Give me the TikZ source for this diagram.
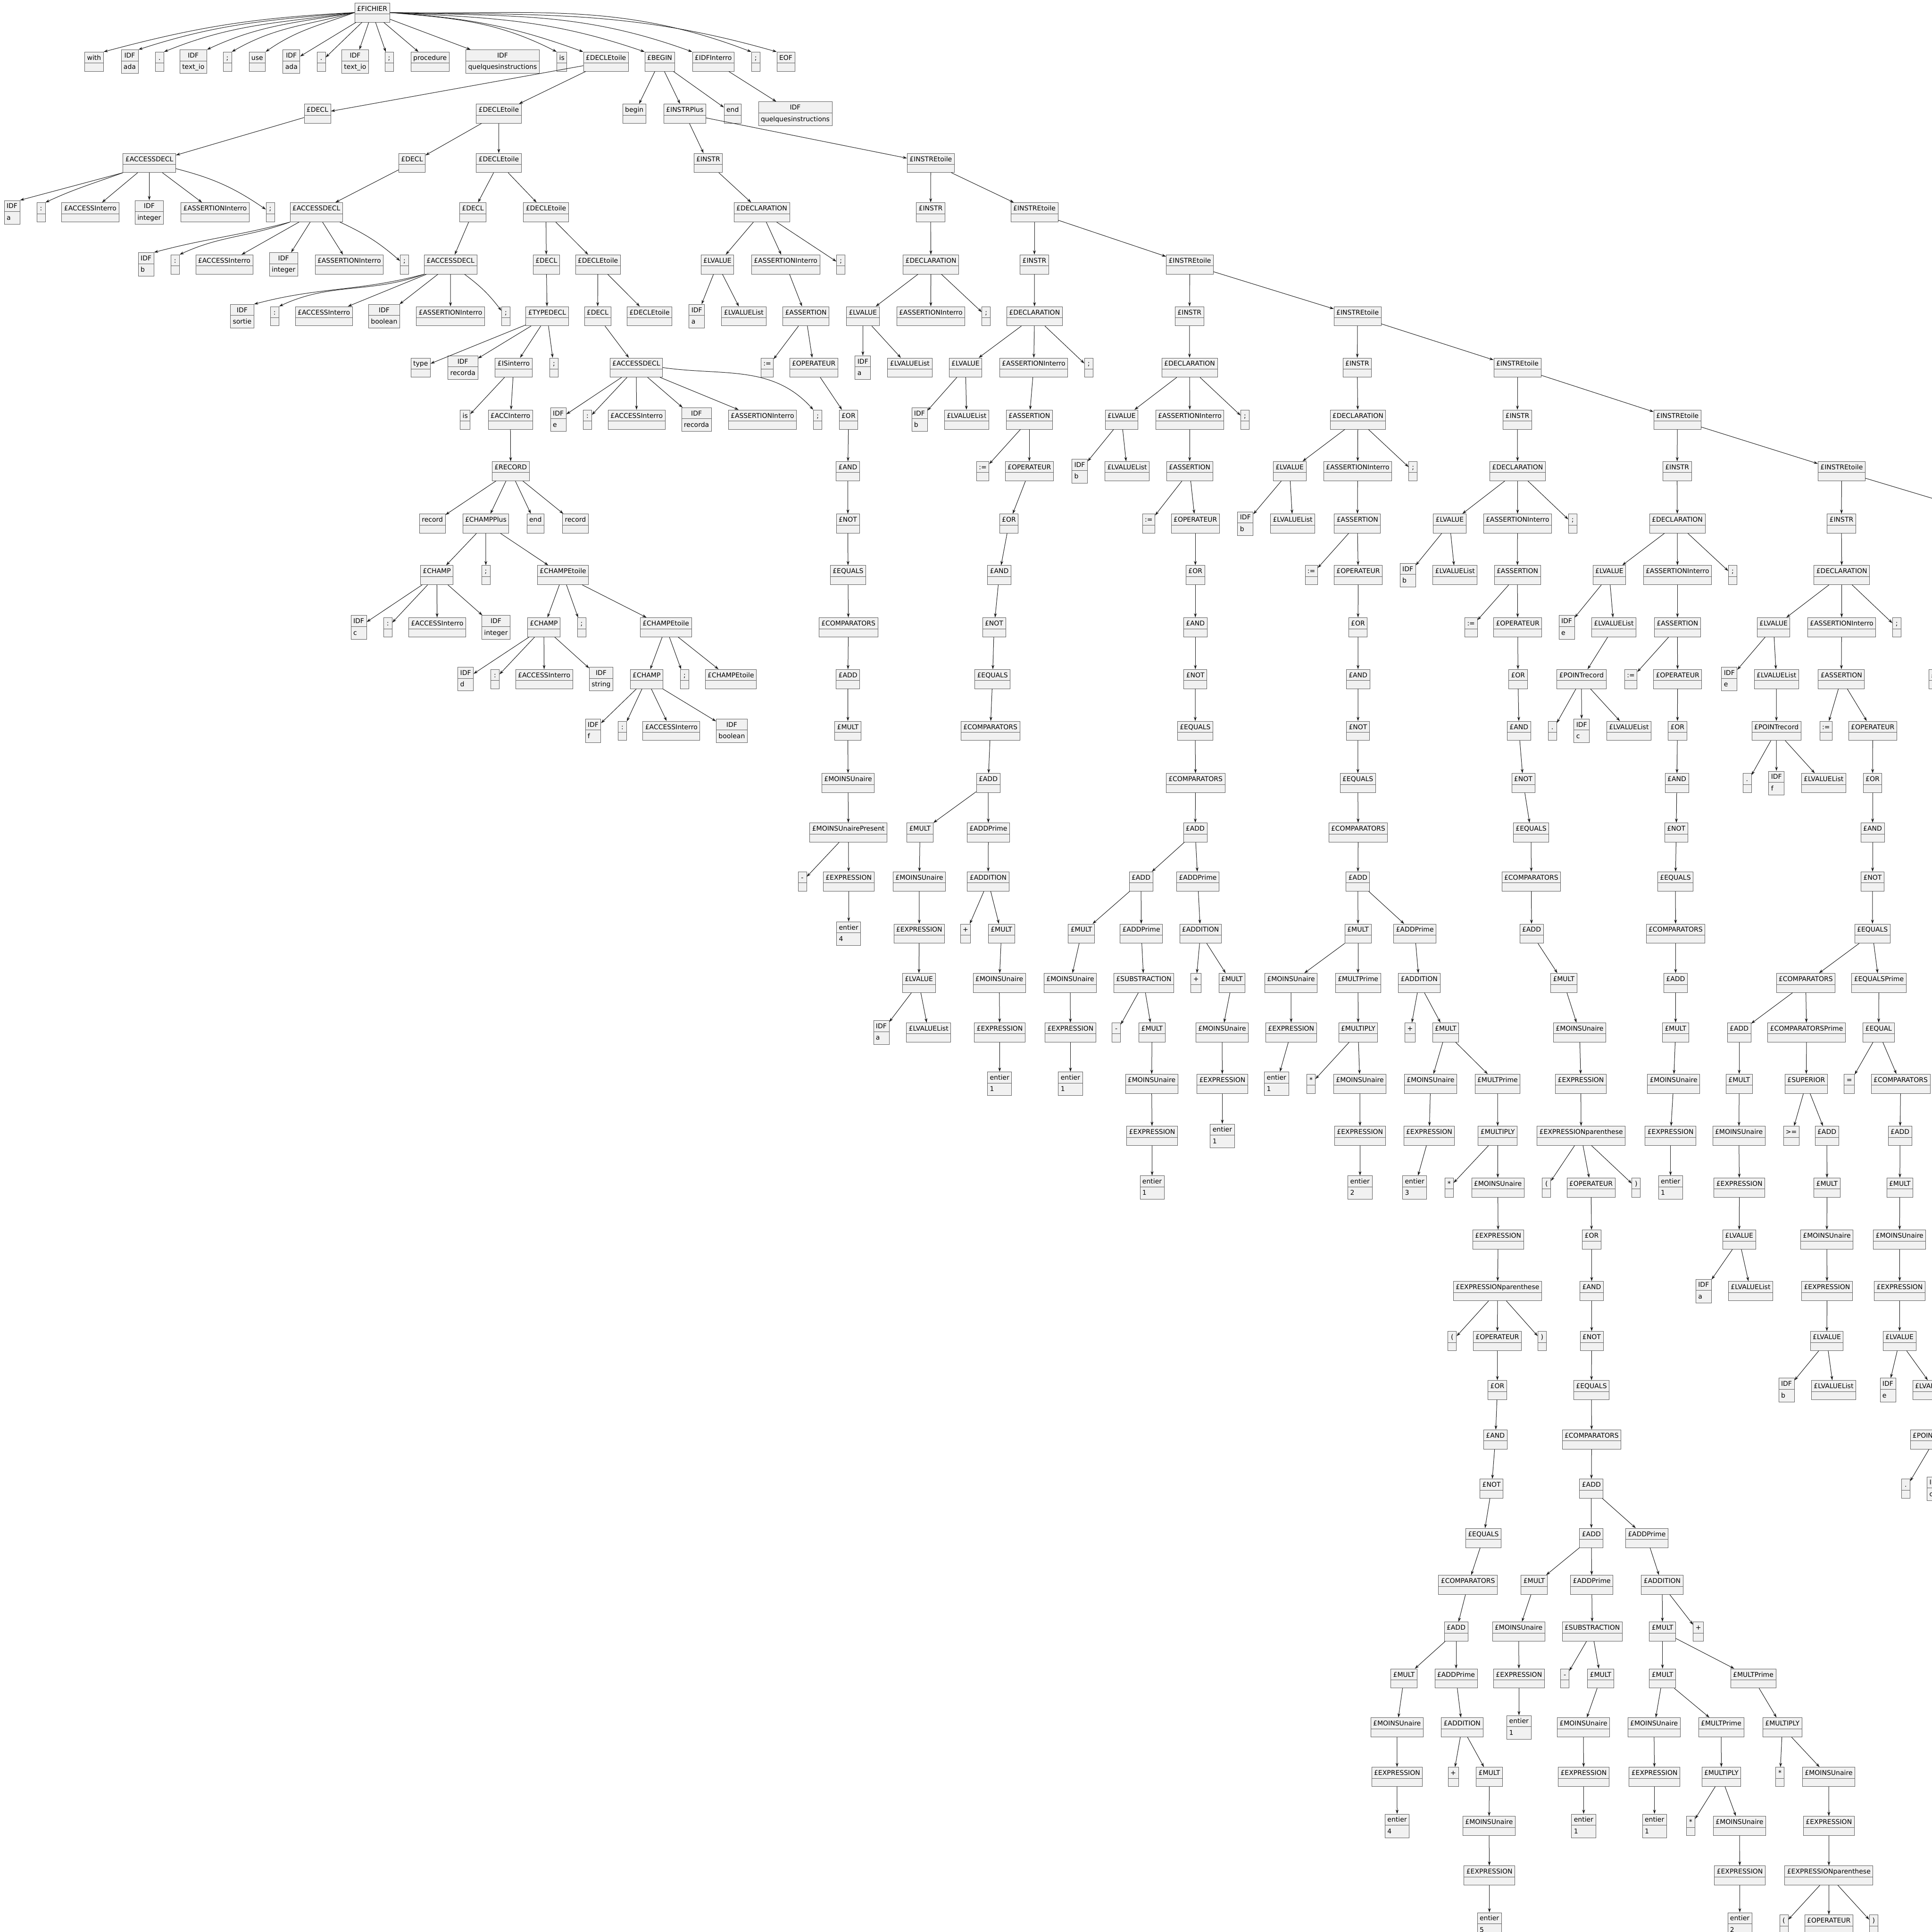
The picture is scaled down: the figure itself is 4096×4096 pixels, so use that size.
\documentclass[tikz,border=0pt]{standalone}
\usepackage{fontspec}
\newfontfamily\objfont{DejaVu Sans}
\usetikzlibrary{shapes.multipart,arrows.meta}
\definecolor{boxfill}{HTML}{F1F1F1}
\definecolor{boxline}{HTML}{5C5C5C}
\definecolor{edgecol}{HTML}{181818}
\newcommand\hs{\rule[-6pt]{0pt}{22.6pt}}
\newcommand\es{\rule{0pt}{16.6pt}}
\newcommand\vs{\rule[-8.6pt]{0pt}{26pt}}
\newcommand\ob[4]{\node[obj] (#1) at (#2,-#3) {\hs #4\nodepart{two}\es};}
\newcommand\ov[5]{\node[obj] (#1) at (#2,-#3) {\hs #4\nodepart{two}\vs #5};}
\tikzset{
 obj/.style={rectangle split, rectangle split parts=2, rectangle split part align={center,left},
   draw=boxline, fill=boxfill, line width=0.8pt, inner xsep=5pt, inner ysep=0pt,
   minimum width=18pt, font=\objfont\fontsize{14pt}{16pt}\selectfont},
 edg/.style={draw=edgecol, line width=1pt, -{Stealth[length=9pt,width=6pt]}}
}
\begin{document}
\begin{tikzpicture}[x=1pt,y=1pt]
\useasboundingbox (0,0) rectangle (4096,-4096);
\clip (0,0) rectangle (4096,-4096);
% R0
\ob{F}{789}{26.6}{£FICHIER}
% R1
\ob{t1}{199.5}{130.7}{with}
\ov{t2}{275}{130.7}{IDF}{ada}
\ob{t3}{338.3}{130.7}{.}
\ov{t4}{409.8}{130.7}{IDF}{text\_io}
\ob{t5}{482}{130.7}{;}
\ob{t6}{545.3}{130.7}{use}
\ov{t7}{617.8}{130.7}{IDF}{ada}
\ob{t8}{681}{130.7}{.}
\ov{t9}{753}{130.7}{IDF}{text\_io}
\ob{t10}{825}{130.7}{;}
\ob{t11}{911.7}{130.7}{procedure}
\ov{t12}{1065.5}{130.7}{IDF}{quelquesinstructions}
\ob{t13}{1191.2}{130.7}{is}
\ob{de1}{1284.6}{130.7}{£DECLEtoile}
\ob{bg}{1398.5}{130.7}{£BEGIN}
\ob{ii}{1512.2}{130.7}{£IDFInterro}
\ob{t14}{1602.3}{130.7}{;}
\ob{t15}{1666}{130.7}{EOF}
% R2
\ob{d1}{673}{240.9}{£DECL}
\ob{de2}{1057.4}{240.9}{£DECLEtoile}
\ob{bgn}{1344.7}{240.9}{begin}
\ob{ip}{1451.8}{240.9}{£INSTRPlus}
\ob{en}{1553.3}{240.9}{end}
\ov{iq}{1686}{240.9}{IDF}{quelquesinstructions}
% R3
\ob{ad1}{316.7}{345.4}{£ACCESSDECL}
\ob{d2}{873.5}{345.4}{£DECL}
\ob{de3}{1057.4}{345.4}{£DECLEtoile}
\ob{in1}{1501.4}{345.4}{£INSTR}
\ob{ie1}{1973.3}{345.4}{£INSTREtoile}
% R4
\ov{a1a}{25.5}{450}{IDF}{a}
\ob{a1b}{86.9}{450}{:}
\ob{a1c}{191.4}{450}{£ACCESSInterro}
\ov{a1d}{316.4}{450}{IDF}{integer}
\ob{a1e}{455.9}{450}{£ASSERTIONInterro}
\ob{a1f}{573.1}{450}{;}
\ob{ad2}{670.7}{450}{£ACCESSDECL}
\ob{d3}{1002.5}{450}{£DECL}
\ob{de4}{1157.5}{450}{£DECLEtoile}
\ob{dc1}{1615}{450}{£DECLARATION}
\ob{in2}{1973}{450}{£INSTR}
\ob{ie2}{2193}{450}{£INSTREtoile}
% R5
\ov{a2a}{309.6}{560.6}{IDF}{b}
\ob{a2b}{371.3}{560.6}{:}
\ob{a2c}{475.5}{560.6}{£ACCESSInterro}
\ov{a2d}{601.2}{560.6}{IDF}{integer}
\ob{a2e}{740.3}{560.6}{£ASSERTIONInterro}
\ob{a2f}{857.5}{560.6}{;}
\ob{ad3}{955.2}{560.6}{£ACCESSDECL}
\ob{d4}{1158.3}{560.6}{£DECL}
\ob{de5}{1267.6}{560.6}{£DECLEtoile}
\ob{lv1}{1521}{560.6}{£LVALUE}
\ob{ai1}{1665.7}{560.6}{£ASSERTIONInterro}
\ob{sc1}{1782.6}{560.6}{;}
\ob{dc2}{1973.6}{560.6}{£DECLARATION}
\ob{in3}{2193}{560.6}{£INSTR}
\ob{ie3}{2522.5}{560.6}{£INSTREtoile}
% R6
\ov{a3a}{513.4}{670.4}{IDF}{sortie}
\ob{a3b}{582.2}{670.4}{:}
\ob{a3c}{686.7}{670.4}{£ACCESSInterro}
\ov{a3d}{814.4}{670.4}{IDF}{boolean}
\ob{a3e}{955}{670.4}{£ASSERTIONInterro}
\ob{a3f}{1072.4}{670.4}{;}
\ob{td}{1160}{670.4}{£TYPEDECL}
\ob{d5}{1267}{670.4}{£DECL}
\ob{de6}{1377}{670.4}{£DECLEtoile}
\ov{lv1a}{1477.3}{670.4}{IDF}{a}
\ob{lv1b}{1576.9}{670.4}{£LVALUEList}
\ob{as1}{1708.5}{670.4}{£ASSERTION}
\ob{lv2}{1829.3}{670.4}{£LVALUE}
\ob{ai2}{1973.3}{670.4}{£ASSERTIONInterro}
\ob{sc2}{2090.8}{670.4}{;}
\ob{dc3}{2193.3}{670.4}{£DECLARATION}
\ob{in4}{2521.8}{670.4}{£INSTR}
\ob{ie4}{2878.1}{670.4}{£INSTREtoile}
% R7
\ob{ty}{891.8}{779.3}{type}
\ov{tr}{981.3}{779.3}{IDF}{recorda}
\ob{isi}{1089}{779.3}{£ISinterro}
\ob{tsc}{1174.5}{779.3}{;}
\ob{ad4}{1348.9}{779.3}{£ACCESSDECL}
\ob{op1as}{1626.5}{779.3}{:=}
\ob{op1}{1725.1}{779.3}{£OPERATEUR}
\ov{lv2a}{1829.3}{779.3}{IDF}{a}
\ob{lv2b}{1928.9}{779.3}{£LVALUEList}
\ob{lv3}{2047}{779.3}{£LVALUE}
\ob{ai3}{2191.4}{779.3}{£ASSERTIONInterro}
\ob{sc3}{2308.3}{779.3}{;}
\ob{dc4}{2522}{779.3}{£DECLARATION}
\ob{in5}{2877.4}{779.3}{£INSTR}
\ob{ie5}{3217}{779.3}{£INSTREtoile}
% R8
\ob{is1}{986.2}{889.5}{is}
\ob{aci}{1082.1}{889.5}{£ACCInterro}
\ov{a4a}{1183.7}{889.5}{IDF}{e}
\ob{a4b}{1245.4}{889.5}{:}
\ob{a4c}{1349.6}{889.5}{£ACCESSInterro}
\ov{a4d}{1476.6}{889.5}{IDF}{recorda}
\ob{a4e}{1616.4}{889.5}{£ASSERTIONInterro}
\ob{a4f}{1733.6}{889.5}{;}
\ob{o1}{1798.9}{889.5}{£OR}
\ov{lv3a}{1949.4}{889.5}{IDF}{b}
\ob{lv3b}{2049.3}{889.5}{£LVALUEList}
\ob{as3}{2182.2}{889.5}{£ASSERTION}
\ob{lv4}{2377.9}{889.5}{£LVALUE}
\ob{ai4}{2522.5}{889.5}{£ASSERTIONInterro}
\ob{sc4}{2639.4}{889.5}{;}
\ob{dc5}{2878.8}{889.5}{£DECLARATION}
\ob{in6}{3217}{889.5}{£INSTR}
\ob{ie6}{3556.3}{889.5}{£INSTREtoile}
% R9
\ob{rec}{1082.7}{998.8}{£RECORD}
\ob{an1}{1797.5}{998.8}{£AND}
\ob{as3a}{2083.6}{998.8}{:=}
\ob{op3}{2182.2}{998.8}{£OPERATEUR}
\ov{lv4a}{2289}{998.8}{IDF}{b}
\ob{lv4b}{2389.6}{998.8}{£LVALUEList}
\ob{as4}{2522.1}{998.8}{£ASSERTION}
\ob{lv5}{2734.1}{998.8}{£LVALUE}
\ob{ai5}{2878.4}{998.8}{£ASSERTIONInterro}
\ob{sc5}{2995.7}{998.8}{;}
\ob{dc6}{3217.3}{998.8}{£DECLARATION}
\ob{in7}{3555.6}{998.8}{£INSTR}
\ob{ie7}{3904.4}{998.8}{£INSTREtoile}
% R10
\ob{rc1}{916.7}{1110}{record}
\ob{cp}{1029.9}{1110}{£CHAMPPlus}
\ob{rc3}{1135.3}{1110}{end}
\ob{rc4}{1220}{1110}{record}
\ob{nt1}{1797.5}{1110}{£NOT}
\ob{o3}{2139}{1110}{£OR}
\ob{as4a}{2435.3}{1110}{:=}
\ob{op4}{2534.2}{1110}{£OPERATEUR}
\ov{lv5a}{2640.3}{1110}{IDF}{b}
\ob{lv5b}{2740.6}{1110}{£LVALUEList}
\ob{as5}{2877.8}{1110}{£ASSERTION}
\ob{lv6}{3073.4}{1110}{£LVALUE}
\ob{ai6}{3217.3}{1110}{£ASSERTIONInterro}
\ob{sc6}{3334.2}{1110}{;}
\ob{dc7}{3556}{1110}{£DECLARATION}
\ob{in8}{3904}{1110}{£INSTR}
\coordinate (ie8) at (4218,-1093);
% R11
\ob{ch1}{926.1}{1219.2}{£CHAMP}
\ob{csc1}{1030}{1219.2}{;}
\ob{ce1}{1193.5}{1219.2}{£CHAMPEtoile}
\ob{eq1}{1797.9}{1219.2}{£EQUALS}
\ob{an3}{2118.5}{1219.2}{£AND}
\ob{o4}{2534.2}{1219.2}{£OR}
\ob{as5a}{2780.1}{1219.2}{:=}
\ob{op5}{2879.5}{1219.2}{£OPERATEUR}
\ov{lv6a}{2984.6}{1219.2}{IDF}{b}
\ob{lv6b}{3084.7}{1219.2}{£LVALUEList}
\ob{as6}{3217}{1219.2}{£ASSERTION}
\ob{lv7}{3411.9}{1219.2}{£LVALUE}
\ob{ai7}{3556.3}{1219.2}{£ASSERTIONInterro}
\ob{sc7}{3673.5}{1219.2}{;}
\ob{dc8}{3904.7}{1219.2}{£DECLARATION}
% R12
\ov{c1a}{760.5}{1329.9}{IDF}{c}
\ob{c1b}{822.3}{1329.9}{:}
\ob{c1c}{926.8}{1329.9}{£ACCESSInterro}
\ov{c1d}{1051.5}{1329.9}{IDF}{integer}
\ob{ch2}{1153}{1329.9}{£CHAMP}
\ob{csc2}{1233}{1329.9}{;}
\ob{ce2}{1411.6}{1329.9}{£CHAMPEtoile}
\ob{cm1}{1798.6}{1329.9}{£COMPARATORS}
\ob{nt3}{2107.5}{1329.9}{£NOT}
\ob{an4}{2534.2}{1329.9}{£AND}
\ob{o5}{2879}{1329.9}{£OR}
\ob{as6a}{3118.7}{1329.9}{:=}
\ob{op6}{3217.6}{1329.9}{£OPERATEUR}
\ov{lv7a}{3321.5}{1329.9}{IDF}{e}
\ob{lv7b}{3421.4}{1329.9}{£LVALUEList}
\ob{as7}{3556.3}{1329.9}{£ASSERTION}
\ob{lv8}{3760}{1329.9}{£LVALUE}
\ob{ai8}{3904.4}{1329.9}{£ASSERTIONInterro}
\ob{sc8}{4021.3}{1329.9}{;}
\coordinate (dc9) at (4225,-1350);
% R13
\ov{c2a}{987.1}{1439.6}{IDF}{d}
\ob{c2b}{1049.5}{1439.6}{:}
\ob{c2c}{1153.7}{1439.6}{£ACCESSInterro}
\ov{c2d}{1274.5}{1439.6}{IDF}{string}
\ob{ch3}{1370.8}{1439.6}{£CHAMP}
\ob{csc3}{1451.5}{1439.6}{;}
\ob{ce3}{1549.4}{1439.6}{£CHAMPEtoile}
\ob{ad1x}{1797.6}{1439.6}{£ADD}
\ob{eq3}{2104.2}{1439.6}{£EQUALS}
\ob{nt4}{2534.2}{1439.6}{£NOT}
\ob{an5}{2879.1}{1439.6}{£AND}
\ob{o6}{3218.3}{1439.6}{£OR}
\ob{pr7}{3352.8}{1439.6}{£POINTrecord}
\ob{as7a}{3457.6}{1439.6}{:=}
\ob{op7}{3556.6}{1439.6}{£OPERATEUR}
\ov{lv8a}{3666.3}{1439.6}{IDF}{e}
\ob{lv8b}{3766.2}{1439.6}{£LVALUEList}
\ob{as8}{3903.7}{1439.6}{£ASSERTION}
\ob{lv9}{4124}{1439.6}{£LVALUE}
% R14
\ov{c3a}{1257.4}{1549.4}{IDF}{f}
\ob{c3b}{1319.5}{1549.4}{:}
\ob{c3c}{1423.3}{1549.4}{£ACCESSInterro}
\ov{c3d}{1551.4}{1549.4}{IDF}{boolean}
\ob{mu1}{1797.5}{1549.4}{£MULT}
\ob{cm3}{2099.6}{1549.4}{£COMPARATORS}
\ob{eq4}{2533.9}{1549.4}{£EQUALS}
\ob{nt5}{2879}{1549.4}{£NOT}
\ob{an6}{3220.3}{1549.4}{£AND}
\ob{pr7a}{3291.1}{1549.4}{.}
\ov{pr7b}{3353.2}{1549.4}{IDF}{c}
\ob{pr7c}{3453.4}{1549.4}{£LVALUEList}
\ob{o7}{3556.3}{1549.4}{£OR}
\ob{pr8}{3766}{1549.4}{£POINTrecord}
\ob{as8a}{3871.4}{1549.4}{:=}
\ob{op8}{3970.3}{1549.4}{£OPERATEUR}
% R15
\ob{mo1}{1798}{1660}{£MOINSUnaire}
\ob{ad3x}{2095}{1660}{£ADD}
\ob{cm4}{2534.6}{1660}{£COMPARATORS}
\ob{eq5}{2878.7}{1660}{£EQUALS}
\ob{nt6}{3229.4}{1660}{£NOT}
\ob{an7}{3555}{1660}{£AND}
\ob{pr8a}{3703.9}{1660}{.}
\ov{pr8b}{3766.2}{1660}{IDF}{f}
\ob{pr8c}{3866.2}{1660}{£LVALUEList}
\ob{o8}{3970}{1660}{£OR}
% R16
\ob{mp1}{1798.6}{1765}{£MOINSUnairePresent}
\ob{mu3}{1950.4}{1765}{£MULT}
\ob{ap3}{2095.3}{1765}{£ADDPrime}
\ob{ad4x}{2533.9}{1765}{£ADD}
\ob{cm5}{2879.4}{1765}{£COMPARATORS}
\ob{eq6}{3246}{1765}{£EQUALS}
\ob{nt7}{3553.7}{1765}{£NOT}
\ob{an8}{3970}{1765}{£AND}
% R17
\ob{mn1}{1700.9}{1868.7}{-}
\ob{ex1}{1799.2}{1868.7}{£EXPRESSION}
\ob{mo3}{1949}{1868.7}{£MOINSUnaire}
\ob{adn3}{2095}{1868.7}{£ADDITION}
\ob{ad4a}{2419}{1868.7}{£ADD}
\ob{ap4}{2539.4}{1868.7}{£ADDPrime}
\ob{ad5}{2878.8}{1868.7}{£ADD}
\ob{cm6}{3246.4}{1868.7}{£COMPARATORS}
\ob{eq7}{3552}{1868.7}{£EQUALS}
\ob{nt8}{3970}{1868.7}{£NOT}
% R18
\ov{e1}{1799.2}{1979.3}{entier}{4}
\ob{ex3}{1948.8}{1979.3}{£EXPRESSION}
\ob{pl3}{2047}{1979.3}{+}
\ob{mu3b}{2123.1}{1979.3}{£MULT}
\ob{mu4}{2292.6}{1979.3}{£MULT}
\ob{ap4b}{2419.6}{1979.3}{£ADDPrime}
\ob{adn4}{2545.1}{1979.3}{£ADDITION}
\ob{mu5}{2879.1}{1979.3}{£MULT}
\ob{ap5}{2999.6}{1979.3}{£ADDPrime}
\ob{ad6}{3247}{1979.3}{£ADD}
\ob{cm7}{3552.4}{1979.3}{£COMPARATORS}
\ob{eq8}{3969.7}{1979.3}{£EQUALS}
% R19
\ob{lv3x}{1948.1}{2083.9}{£LVALUE}
\ob{mo3b}{2118.5}{2083.9}{£MOINSUnaire}
\ob{mo4}{2269}{2083.9}{£MOINSUnaire}
\ob{sb4}{2424.9}{2083.9}{£SUBSTRACTION}
\ob{pl4}{2535.6}{2083.9}{+}
\ob{mu4c}{2611.7}{2083.9}{£MULT}
\ob{mo5}{2737}{2083.9}{£MOINSUnaire}
\ob{mpr5}{2879.1}{2083.9}{£MULTPrime}
\ob{adn5}{3008.7}{2083.9}{£ADDITION}
\ob{mu6}{3315.3}{2083.9}{£MULT}
\ob{ad7}{3552.4}{2083.9}{£ADD}
\ob{cm8}{3828.3}{2083.9}{£COMPARATORS}
\ob{eqp8}{3983.4}{2083.9}{£EQUALSPrime}
% R20
\ov{lv3xa}{1868.4}{2188.8}{IDF}{a}
\ob{lv3xb}{1968.7}{2188.8}{£LVALUEList}
\ob{ex3b}{2119.5}{2188.8}{£EXPRESSION}
\ob{ex4}{2269.4}{2188.8}{£EXPRESSION}
\ob{mn4}{2366.7}{2188.8}{-}
\ob{mu4b}{2442.4}{2188.8}{£MULT}
\ob{mo4c}{2591}{2188.8}{£MOINSUnaire}
\ob{ex5}{2737.3}{2188.8}{£EXPRESSION}
\ob{mt5}{2879.4}{2188.8}{£MULTIPLY}
\ob{pl5}{2989.5}{2188.8}{+}
\ob{mu5b}{3065}{2188.8}{£MULT}
\ob{mo6}{3348.9}{2188.8}{£MOINSUnaire}
\ob{mu7}{3552.3}{2188.8}{£MULT}
\ob{ad8}{3687.2}{2188.8}{£ADD}
\ob{cp8}{3830}{2188.8}{£COMPARATORSPrime}
\ob{eql8}{3982.8}{2188.8}{£EQUAL}
% R21
\ov{e3}{2119.2}{2297.7}{entier}{1}
\ov{e4}{2269.4}{2297.7}{entier}{1}
\ob{mo4b}{2441.5}{2297.7}{£MOINSUnaire}
\ob{ex4c}{2591.4}{2297.7}{£EXPRESSION}
\ov{e5}{2706.3}{2297.7}{entier}{1}
\ob{st5}{2779.5}{2297.7}{*}
\ob{mo5b}{2883}{2297.7}{£MOINSUnaire}
\ob{mo5c}{3032.9}{2297.7}{£MOINSUnaire}
\ob{mpr5c}{3174.9}{2297.7}{£MULTPrime}
\ob{ex6}{3351.5}{2297.7}{£EXPRESSION}
\ob{mo7}{3548.1}{2297.7}{£MOINSUnaire}
\ob{mu8}{3687.2}{2297.7}{£MULT}
\ob{sp8}{3829.3}{2297.7}{£SUPERIOR}
\ob{eqs8}{3920.7}{2297.7}{=}
\ob{cm8b}{4029.5}{2297.7}{£COMPARATORS}
% R22
\ob{ex4b}{2442.5}{2408}{£EXPRESSION}
\ov{e4c}{2591.4}{2408}{entier}{1}
\ob{ex5b}{2883.3}{2408}{£EXPRESSION}
\ob{ex5c}{3029.9}{2408}{£EXPRESSION}
\ob{mt5c}{3175.2}{2408}{£MULTIPLY}
\ob{ep6}{3352.1}{2408}{£EXPRESSIONparenthese}
\ob{ex7}{3541.6}{2408}{£EXPRESSION}
\ob{mo8}{3686.6}{2408}{£MOINSUnaire}
\ob{ge8}{3797.6}{2408}{>=}
\ob{ad8b}{3873}{2408}{£ADD}
\ob{ad8c}{4028.2}{2408}{£ADD}
% R23
\ov{e4b}{2442.5}{2517.7}{entier}{1}
\ov{e5b}{2883.3}{2517.7}{entier}{2}
\ov{e5c}{2999.2}{2517.7}{entier}{3}
\ob{st5c}{3072.3}{2517.7}{*}
\ob{mo5d}{3175.5}{2517.7}{£MOINSUnaire}
\ob{lp6}{3278.7}{2517.7}{(}
\ob{op6b}{3373}{2517.7}{£OPERATEUR}
\ob{rp6}{3468.7}{2517.7}{)}
\ov{e7}{3541.6}{2517.7}{entier}{1}
\ob{ex8}{3687.6}{2517.7}{£EXPRESSION}
\ob{mu8b}{3873.4}{2517.7}{£MULT}
\ob{mu8c}{4027.8}{2517.7}{£MULT}
% R24
\ob{ex5d}{3176.2}{2628}{£EXPRESSION}
\ob{o6b}{3374.4}{2628}{£OR}
\ob{lv8x}{3687.2}{2628}{£LVALUE}
\ob{mo8b}{3873}{2628}{£MOINSUnaire}
\ob{mo8c}{4027.2}{2628}{£MOINSUnaire}
% R25
\ob{ep5}{3174.9}{2737}{£EXPRESSIONparenthese}
\ob{an6b}{3374.4}{2737}{£AND}
\ov{lv8xa}{3611.8}{2737}{IDF}{a}
\ob{lv8xb}{3711.4}{2737}{£LVALUEList}
\ob{ex8b}{3873.4}{2737}{£EXPRESSION}
\ob{ex8c}{4027.5}{2737}{£EXPRESSION}
% R26
\ob{lp5}{3078.8}{2843}{(}
\ob{op5b}{3174.5}{2843}{£OPERATEUR}
\ob{rp5}{3269.3}{2843}{)}
\ob{nt6b}{3374.4}{2843}{£NOT}
\ob{lv8y}{3873}{2843}{£LVALUE}
\ob{lv8z}{4027.2}{2843}{£LVALUE}
% R27
\ob{o5b}{3174.5}{2946.9}{£OR}
\ob{eq6b}{3374}{2946.9}{£EQUALS}
\ov{lv8ya}{3787.5}{2946.9}{IDF}{b}
\ob{lv8yb}{3887.4}{2946.9}{£LVALUEList}
\ov{lv8za}{4002.4}{2946.9}{IDF}{e}
\ob{lv8zb}{4102}{2946.9}{£LVALUEList}
% R28
\ob{an5b}{3170.3}{3051.7}{£AND}
\ob{cm6b}{3374.4}{3051.7}{£COMPARATORS}
\ob{pr8z}{4102}{3051.7}{£POINTrecord}
% R29
\ob{nt5b}{3162.1}{3156}{£NOT}
\ob{ad6b}{3373.8}{3156}{£ADD}
\ob{pr8za}{4040.2}{3156}{.}
\ov{pr8zb}{4102}{3156}{IDF}{c}
% R30
\ob{eq5b}{3144.9}{3260.5}{£EQUALS}
\ob{ad6c}{3373.8}{3260.5}{£ADD}
\ob{ap6c}{3491.3}{3260.5}{£ADDPrime}
% R31
\ob{cm5b}{3112.2}{3360}{£COMPARATORS}
\ob{mu6c}{3252.6}{3360}{£MULT}
\ob{ap6d}{3374.7}{3360}{£ADDPrime}
\ob{adn6}{3524}{3360}{£ADDITION}
% R32
\ob{ad5b}{3087}{3459}{£ADD}
\ob{mo6c}{3219.6}{3459}{£MOINSUnaire}
\ob{sb6}{3375.6}{3459}{£SUBSTRACTION}
\ob{mu6e}{3524.6}{3459}{£MULT}
\ob{pl6}{3600.7}{3459}{+}
% R33
\ob{mu5x}{2976.5}{3558.4}{£MULT}
\ob{ap5x}{3087}{3558.4}{£ADDPrime}
\ob{ex6c}{3220.3}{3558.4}{£EXPRESSION}
\ob{mn6}{3317.6}{3558.4}{-}
\ob{mu6d}{3393.4}{3558.4}{£MULT}
\ob{mu6f}{3524.6}{3558.4}{£MULT}
\ob{mpr6}{3717}{3558.4}{£MULTPrime}
% R34
\ob{mo5x}{2961.7}{3662}{£MOINSUnaire}
\ob{adn5x}{3099.7}{3662}{£ADDITION}
\ov{e6c}{3220.3}{3662}{entier}{1}
\ob{mo6d}{3357}{3662}{£MOINSUnaire}
\ob{mo6f}{3506.7}{3662}{£MOINSUnaire}
\ob{mpr6f}{3649}{3662}{£MULTPrime}
\ob{mt6}{3778.7}{3662}{£MULTIPLY}
% R35
\ob{ex5x}{2961.9}{3767}{£EXPRESSION}
\ob{pl5x}{3081}{3767}{+}
\ob{mu5y}{3157.5}{3767}{£MULT}
\ob{ex6d}{3357.4}{3767}{£EXPRESSION}
\ob{ex6f}{3507.6}{3767}{£EXPRESSION}
\ob{mt6f}{3649.4}{3767}{£MULTIPLY}
\ob{st6}{3773.7}{3767}{*}
\ob{mo6g}{3877}{3767}{£MOINSUnaire}
% R36
\ov{e5x}{2962}{3871}{entier}{4}
\ob{mo5y}{3156.9}{3871}{£MOINSUnaire}
\ov{e6d}{3357.4}{3871}{entier}{1}
\ov{e6f}{3507.6}{3871}{entier}{1}
\ob{st6f}{3584.4}{3871}{*}
\ob{mo6h}{3687.9}{3871}{£MOINSUnaire}
\ob{ex6g}{3877.3}{3871}{£EXPRESSION}
% R37
\ob{ex5y}{3157.6}{3976}{£EXPRESSION}
\ob{ex6h}{3688.5}{3976}{£EXPRESSION}
\ob{ep6g}{3877.3}{3976}{£EXPRESSIONparenthese}
% R38
\ov{e5y}{3157.6}{4080}{entier}{5}
\ov{e6h}{3688.5}{4080}{entier}{2}
\ob{lp6g}{3781.9}{4080}{(}
\ob{op6g}{3877.3}{4080}{£OPERATEUR}
\ob{rp6g}{3972.3}{4080}{)}

% curved edges from the root
\draw[edg] (F.west) to[out=183,in=15] (t1.north east);
\draw[edg] (F.west) to[out=185,in=18] (t2.north east);
\draw[edg] (F.west) to[out=188,in=22] (t3.north east);
\draw[edg] (F.west) to[out=190,in=25] (t4.north east);
\draw[edg] (F.west) to[out=195,in=30] (t5.north east);
\draw[edg] (F.west) to[out=200,in=35] (t6.north east);
\draw[edg] (F.east) to[out=-5,in=153] (t13.north west);
\draw[edg] (F.east) to[out=-4,in=160] (de1.north west);
\draw[edg] (F.east) to[out=-3,in=161] (bg.north west);
\draw[edg] (F.east) to[out=-2,in=160] (ii.north west);
\draw[edg] (F.east) to[out=-1,in=159] (t14.north west);
\draw[edg] (F.east) to[out=-1,in=164] (t15.north west);
% curved fan edges
\draw[edg] (ad1.south west) to[out=195,in=15] (a1a.north east);
\draw[edg] (ad1.south west) to[out=200,in=25] (a1b.north east);
\draw[edg] (ad2.south west) to[out=195,in=15] (a2a.north east);
\draw[edg] (ad2.south west) to[out=200,in=25] (a2b.north east);
\draw[edg] (ad3.south west) to[out=195,in=15] (a3a.north east);
\draw[edg] (ad3.south west) to[out=200,in=25] (a3b.north east);
\draw[edg] (ad1) to[bend left=10] (a1f);
\draw[edg] (ad2) to[bend left=8] (a2f);
\draw[edg] (ad3) to[bend left=8] (a3f);
\draw[edg] (ad4.east) to[out=-8,in=132] (a4f.north west);
% edges leaving the visible area
\draw[edg] (ie7) -- (ie8);
\draw[edg] (dc9) -- (lv9);

\foreach \a/\b in {F/t7,F/t8,F/t9,F/t10,F/t11,F/t12,
de1/d1,de1/de2,bg/bgn,bg/ip,bg/en,ii/iq,
d1/ad1,de2/d2,de2/de3,ip/in1,ip/ie1,
ad1/a1c,ad1/a1d,ad1/a1e,
d2/ad2,de3/d3,de3/de4,in1/dc1,ie1/in2,ie1/ie2,
ad2/a2c,ad2/a2d,ad2/a2e,
d3/ad3,de4/d4,de4/de5,dc1/lv1,dc1/ai1,dc1/sc1,in2/dc2,ie2/in3,ie2/ie3,
ad3/a3c,ad3/a3d,ad3/a3e,
d4/td,de5/d5,de5/de6,lv1/lv1a,lv1/lv1b,ai1/as1,dc2/lv2,dc2/ai2,dc2/sc2,in3/dc3,ie3/in4,ie3/ie4,
td/ty,td/tr,td/isi,td/tsc,d5/ad4,as1/op1as,as1/op1,lv2/lv2a,lv2/lv2b,dc3/lv3,dc3/ai3,dc3/sc3,in4/dc4,ie4/in5,ie4/ie5,
isi/is1,isi/aci,ad4/a4a,ad4/a4b,ad4/a4c,ad4/a4d,ad4/a4e,op1/o1,lv3/lv3a,lv3/lv3b,ai3/as3,dc4/lv4,dc4/ai4,dc4/sc4,in5/dc5,ie5/in6,ie5/ie6,
aci/rec,o1/an1,as3/as3a,as3/op3,lv4/lv4a,lv4/lv4b,ai4/as4,dc5/lv5,dc5/ai5,dc5/sc5,in6/dc6,ie6/in7,ie6/ie7,
rec/rc1,rec/cp,rec/rc3,rec/rc4,an1/nt1,op3/o3,as4/as4a,as4/op4,lv5/lv5a,lv5/lv5b,ai5/as5,dc6/lv6,dc6/ai6,dc6/sc6,in7/dc7,ie7/in8,
cp/ch1,cp/csc1,cp/ce1,nt1/eq1,o3/an3,op4/o4,as5/as5a,as5/op5,lv6/lv6a,lv6/lv6b,ai6/as6,dc7/lv7,dc7/ai7,dc7/sc7,in8/dc8,
ch1/c1a,ch1/c1b,ch1/c1c,ch1/c1d,ce1/ch2,ce1/csc2,ce1/ce2,eq1/cm1,an3/nt3,o4/an4,op5/o5,as6/as6a,as6/op6,lv7/lv7a,lv7/lv7b,ai7/as7,dc8/lv8,dc8/ai8,dc8/sc8,
ch2/c2a,ch2/c2b,ch2/c2c,ch2/c2d,ce2/ch3,ce2/csc3,ce2/ce3,cm1/ad1x,nt3/eq3,an4/nt4,o5/an5,op6/o6,lv7b/pr7,as7/as7a,as7/op7,lv8/lv8a,lv8/lv8b,ai8/as8,
ch3/c3a,ch3/c3b,ch3/c3c,ch3/c3d,ad1x/mu1,eq3/cm3,nt4/eq4,an5/nt5,o6/an6,pr7/pr7a,pr7/pr7b,pr7/pr7c,op7/o7,as8/as8a,as8/op8,lv8b/pr8,
mu1/mo1,cm3/ad3x,eq4/cm4,nt5/eq5,an6/nt6,o7/an7,pr8/pr8a,pr8/pr8b,pr8/pr8c,op8/o8,
mo1/mp1,ad3x/mu3,ad3x/ap3,cm4/ad4x,eq5/cm5,nt6/eq6,an7/nt7,o8/an8,
mp1/mn1,mp1/ex1,mu3/mo3,ap3/adn3,ad4x/ad4a,ad4x/ap4,cm5/ad5,eq6/cm6,nt7/eq7,an8/nt8,
ex1/e1,mo3/ex3,adn3/pl3,adn3/mu3b,ad4a/mu4,ad4a/ap4b,ap4/adn4,ad5/mu5,ad5/ap5,cm6/ad6,eq7/cm7,nt8/eq8,
ex3/lv3x,mu3b/mo3b,mu4/mo4,ap4b/sb4,adn4/pl4,adn4/mu4c,mu5/mo5,mu5/mpr5,ap5/adn5,ad6/mu6,cm7/ad7,eq8/cm8,eq8/eqp8,
lv3x/lv3xa,lv3x/lv3xb,mo3b/ex3b,mo4/ex4,sb4/mn4,sb4/mu4b,mu4c/mo4c,mo5/ex5,mpr5/mt5,adn5/pl5,adn5/mu5b,mu6/mo6,ad7/mu7,cm8/ad8,cm8/cp8,eqp8/eql8,
ex3b/e3,ex4/e4,mu4b/mo4b,mo4c/ex4c,ex5/e5,mt5/st5,mt5/mo5b,mu5b/mo5c,mu5b/mpr5c,mo6/ex6,mu7/mo7,ad8/mu8,cp8/sp8,eql8/eqs8,eql8/cm8b,
mo4b/ex4b,ex4c/e4c,mo5b/ex5b,mo5c/ex5c,mpr5c/mt5c,ex6/ep6,mo7/ex7,mu8/mo8,sp8/ge8,sp8/ad8b,cm8b/ad8c,
ex4b/e4b,ex5b/e5b,ex5c/e5c,mt5c/st5c,mt5c/mo5d,ep6/lp6,ep6/op6b,ep6/rp6,ex7/e7,mo8/ex8,ad8b/mu8b,ad8c/mu8c,
mo5d/ex5d,op6b/o6b,ex8/lv8x,mu8b/mo8b,mu8c/mo8c,
ex5d/ep5,o6b/an6b,lv8x/lv8xa,lv8x/lv8xb,mo8b/ex8b,mo8c/ex8c,
ep5/lp5,ep5/op5b,ep5/rp5,an6b/nt6b,ex8b/lv8y,ex8c/lv8z,
op5b/o5b,nt6b/eq6b,lv8y/lv8ya,lv8y/lv8yb,lv8z/lv8za,lv8z/lv8zb,
o5b/an5b,eq6b/cm6b,lv8zb/pr8z,
an5b/nt5b,cm6b/ad6b,pr8z/pr8za,pr8z/pr8zb,
nt5b/eq5b,ad6b/ad6c,ad6b/ap6c,
eq5b/cm5b,ad6c/mu6c,ad6c/ap6d,ap6c/adn6,
cm5b/ad5b,mu6c/mo6c,ap6d/sb6,adn6/mu6e,adn6/pl6,
ad5b/mu5x,ad5b/ap5x,mo6c/ex6c,sb6/mn6,sb6/mu6d,mu6e/mu6f,mu6e/mpr6,
mu5x/mo5x,ap5x/adn5x,ex6c/e6c,mu6d/mo6d,mu6f/mo6f,mu6f/mpr6f,mpr6/mt6,
mo5x/ex5x,adn5x/pl5x,adn5x/mu5y,mo6d/ex6d,mo6f/ex6f,mpr6f/mt6f,mt6/st6,mt6/mo6g,
ex5x/e5x,mu5y/mo5y,ex6d/e6d,ex6f/e6f,mt6f/st6f,mt6f/mo6h,mo6g/ex6g,
mo5y/ex5y,mo6h/ex6h,ex6g/ep6g,
ex5y/e5y,ex6h/e6h,ep6g/lp6g,ep6g/op6g,ep6g/rp6g}
{\draw[edg] (\a) -- (\b);}
\end{tikzpicture}
\end{document}
